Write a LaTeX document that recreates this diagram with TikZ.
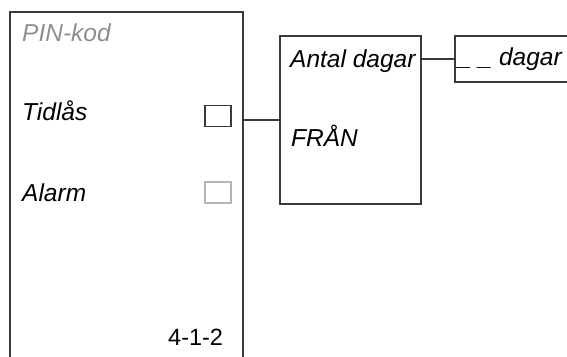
\documentclass[tikz,border=0pt]{standalone}
\usepackage{fontspec}
\setmainfont{Liberation Sans}
\usepackage{tikz}
\usetikzlibrary{positioning, calc}

\definecolor{frame}{HTML}{3A3A3A}
\definecolor{dim}{HTML}{8E8E8E}
\definecolor{light}{HTML}{B4B4B4}

\begin{document}
\begin{tikzpicture}[
  x=1pt, y=-1pt,
  every node/.style={font=\fontsize{23.5}{27}\selectfont},
  panel/.style={rectangle, draw=frame, line width=1.3pt, inner sep=0pt},
  label/.style={anchor=base west, inner sep=0pt, font=\fontsize{24.5}{28}\selectfont\itshape},
  checkbox/.style={rectangle, draw=frame, line width=1.2pt, minimum width=26pt,
                   minimum height=21pt, inner sep=0pt},
  link/.style={draw=frame, line width=1.3pt},
]
\clip (0,0) rectangle (567,356);

% Menu panel
\node[panel, minimum width=233pt, minimum height=368pt] (menu) at (126.5,196) {};
\node[label, text=dim] (pin) at (22,41) {PIN-kod};
\node[label] (tidlas) at (22,120) {Tidlås};
\node[label] (alarm) at (22,201) {Alarm};
\node[checkbox] (tidbox) at (218,116) {};
\node[checkbox, draw=light] (alarmbox) at (218,192.5) {};
\node[anchor=base west, inner sep=0pt] (code) at (168,345) {4-1-2};

% Submenu
\node[panel, minimum width=141pt, minimum height=168pt] (sub) at (350.5,120) {};
\node[label] (antal) at (290,67) {Antal dagar};
\node[label] (fran) at (291,146.5) {FRÅN};
\draw[link] (sub.west) -- (sub.west -| menu.east);

% Value field
\node[panel, minimum width=145pt, minimum height=46pt] (value) at (527.5,59) {};
\node[label] (dagar) at (458,65) {\_ \_ dagar};
\draw[link] (value.west) -- (value.west -| sub.east);

\end{tikzpicture}
\end{document}
